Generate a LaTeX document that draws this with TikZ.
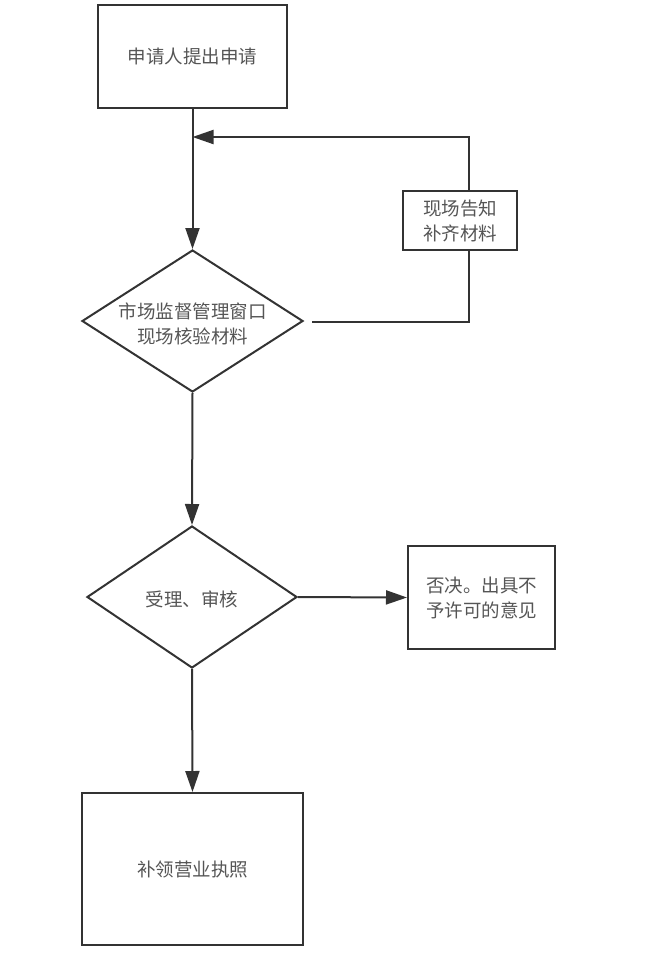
\documentclass[tikz,border=0pt]{standalone}
\usepackage{fontspec}
\setmainfont{Noto Sans CJK SC}
\usetikzlibrary{shapes.geometric,arrows.meta}
\definecolor{ln}{HTML}{333333}
\definecolor{tx}{HTML}{555555}
\begin{document}
\begin{tikzpicture}[x=1pt,y=-1pt,
  every node/.style={text=tx,font=\fontsize{18.5}{25}\selectfont,align=center,inner sep=0pt},
  box/.style={draw=ln,line width=2pt,rectangle},
  dia/.style={draw=ln,line width=2pt,diamond,inner sep=0pt},
  conn/.style={draw=ln,line width=2pt,-{Triangle[length=21pt,width=14pt]}},
  plain/.style={draw=ln,line width=2pt}]
\useasboundingbox (0,0) rectangle (659,967);
\node[box,minimum width=189pt,minimum height=103pt] (b1) at (192.5,56.5) {申请人提出申请};
\node[dia,minimum width=221pt,minimum height=142pt] (d1) at (192.5,321) {};
\node (t1) at (192.5,324) {市场监督管理窗口\\现场核验材料};
\coordinate (d1r) at (312,322);
\node[box,minimum width=114pt,minimum height=59pt] (b2) at (460,220.5) {现场告知\\补齐材料};
\coordinate (b2t) at (469,190);
\coordinate (b2b) at (469,251);
\coordinate (top) at (469,137);
\coordinate (join) at (192.5,137);
\coordinate (corner) at (469,322);
\node[dia,minimum width=210pt,minimum height=142pt] (d2) at (192,597) {};
\node (t2) at (192,599) {受理、审核};
\node[box,minimum width=147pt,minimum height=103pt] (b3) at (481.5,597.5) {否决。出具不\\予许可的意见};
\node[box,minimum width=221pt,minimum height=152pt] (b4) at (192.5,869) {补领营业执照};
\draw[conn] (b1.south) -- (d1.north);
\draw[plain] (d1r) -- (corner) -- (b2b);
\draw[conn] (b2t) -- (top) -- (join);
\draw[conn] (d1.south) -- (d2.north);
\draw[conn] (d2.east) -- (b3.west);
\draw[conn] (d2.south) -- (b4.north);
\end{tikzpicture}
\end{document}
